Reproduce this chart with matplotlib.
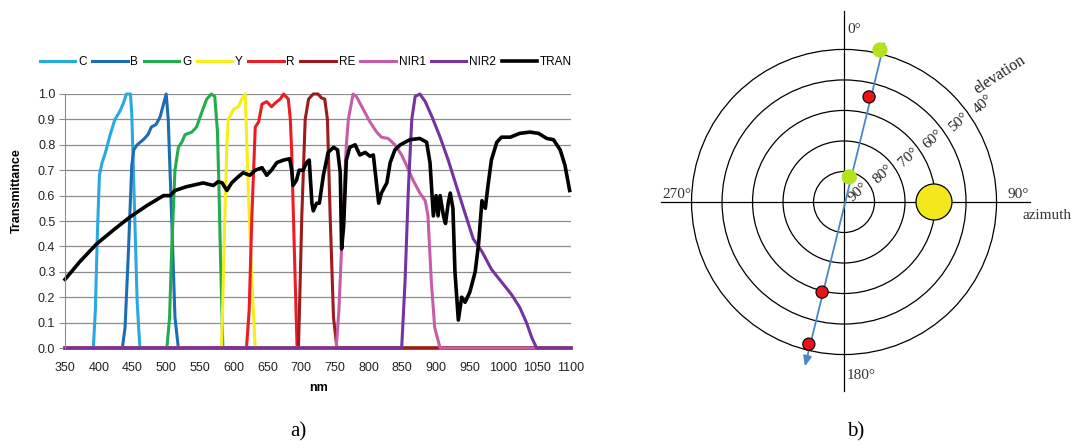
import numpy as np
import matplotlib
matplotlib.use("Agg")
import matplotlib.pyplot as plt
from matplotlib.patches import Circle

# ---- spectral data ----
c_nm = [350, 392, 395, 398, 401, 405, 410, 417, 424, 431, 436, 441, 447, 449, 453, 457, 461, 1100]
c_val = [0, 0, 0.15, 0.45, 0.68, 0.73, 0.77, 0.84, 0.9, 0.93, 0.96, 1.0, 1.0, 0.92, 0.55, 0.18, 0, 0]

b_nm = [350, 435, 439, 444, 449, 452, 457, 466, 473, 478, 485, 491, 496, 500, 503, 508, 513, 518, 1100]
b_val = [0, 0, 0.08, 0.38, 0.72, 0.78, 0.80, 0.82, 0.84, 0.87, 0.88, 0.91, 0.96, 1.0, 0.9, 0.52, 0.12, 0, 0]

g_nm = [350, 501, 505, 508, 513, 518, 523, 528, 538, 545, 553, 560, 567, 572, 576, 578, 581, 584, 1100]
g_val = [0, 0, 0.12, 0.38, 0.7, 0.79, 0.81, 0.84, 0.85, 0.87, 0.93, 0.98, 1.0, 0.99, 0.85, 0.65, 0.3, 0, 0]

y_nm = [350, 582, 584, 587, 590, 592, 600, 607, 612, 617, 619, 622, 627, 632, 1100]
y_val = [0, 0, 0.2, 0.52, 0.8, 0.9, 0.94, 0.95, 0.98, 1.0, 0.85, 0.6, 0.26, 0, 0]

r_nm = [350, 619, 623, 627, 632, 637, 642, 649, 656, 664, 669, 674, 681, 684, 686, 690, 694, 1100]
r_val = [0, 0, 0.15, 0.52, 0.87, 0.89, 0.96, 0.97, 0.95, 0.97, 0.98, 1.0, 0.98, 0.9, 0.77, 0.38, 0, 0]

re_nm = [350, 696, 698, 701, 706, 711, 718, 725, 730, 735, 739, 743, 748, 753, 1100]
re_val = [0, 0, 0.2, 0.52, 0.9, 0.98, 1.0, 1.0, 0.985, 0.98, 0.9, 0.52, 0.12, 0, 0]

nir1_nm = [350, 752, 756, 762, 767, 770, 777, 782, 792, 802, 812, 819, 829, 839, 849, 856, 866, 876,
           884, 888, 893, 898, 906, 1100]
nir1_val = [0, 0, 0.15, 0.52, 0.8, 0.9, 1.0, 0.99, 0.94, 0.89, 0.85, 0.83, 0.825, 0.8, 0.76, 0.72, 0.66, 0.61,
            0.58, 0.52, 0.26, 0.08, 0, 0]

nir2_nm = [350, 849, 854, 859, 864, 869, 876, 884, 894, 906, 918, 931, 943, 955, 968, 982, 997, 1012,
           1024, 1034, 1042, 1049, 1100]
nir2_val = [0, 0, 0.26, 0.63, 0.9, 0.99, 1.0, 0.97, 0.91, 0.83, 0.74, 0.63, 0.53, 0.43, 0.38, 0.31, 0.26, 0.21,
            0.16, 0.1, 0.04, 0, 0]

tran_nm = [350, 372, 397, 422, 446, 471, 496, 506, 513, 530, 555, 562, 570, 577, 583, 590, 597, 605, 614,
           624, 632, 642, 649, 656, 664, 674, 683, 686, 688, 693, 697, 703, 708, 712, 716, 718, 723, 727,
           733, 740, 748, 754, 758, 760, 763, 767, 772, 780, 787, 795, 802, 807, 812, 815, 819, 827, 832,
           839, 847, 861, 876, 886, 891, 896, 900, 903, 906, 911, 914, 918, 921, 925, 928, 933, 938, 943,
           950, 958, 963, 968, 973, 977, 982, 990, 997, 1010, 1024, 1039, 1052, 1064, 1074, 1084, 1091, 1098]
tran_val = [0.27, 0.34, 0.41, 0.465, 0.515, 0.56, 0.60, 0.60, 0.62, 0.635, 0.65, 0.645, 0.64, 0.655, 0.65, 0.62,
            0.65, 0.67, 0.69, 0.68, 0.70, 0.71, 0.68, 0.70, 0.73, 0.74, 0.745, 0.70, 0.64, 0.66, 0.70, 0.70,
            0.73, 0.74, 0.57, 0.54, 0.57, 0.57, 0.68, 0.77, 0.79, 0.78, 0.69, 0.39, 0.48, 0.74, 0.79, 0.80,
            0.76, 0.77, 0.755, 0.76, 0.64, 0.57, 0.61, 0.65, 0.73, 0.78, 0.80, 0.82, 0.825, 0.81, 0.73, 0.52,
            0.60, 0.52, 0.60, 0.52, 0.49, 0.57, 0.61, 0.55, 0.30, 0.11, 0.20, 0.18, 0.22, 0.30, 0.41, 0.58,
            0.55, 0.64, 0.74, 0.81, 0.83, 0.83, 0.845, 0.85, 0.845, 0.825, 0.82, 0.78, 0.72, 0.62]

band_names = ["C", "B", "G", "Y", "R", "RE", "NIR1", "NIR2", "TRAN"]
band_colors = ["#29a9e1", "#1d6db5", "#21ad4b", "#f5ee1a", "#ed1c24", "#9c1b1f", "#c65da9", "#7433a0", "#000000"]
band_x = [c_nm, b_nm, g_nm, y_nm, r_nm, re_nm, nir1_nm, nir2_nm, tran_nm]
band_y = [c_val, b_val, g_val, y_val, r_val, re_val, nir1_val, nir2_val, tran_val]

# ---- sky plot data (azimuth / elevation in degrees) ----
ring_elev = [90, 80, 70, 60, 50, 40]
path_az = [14.2, 193.4]
path_el = [35.5, 33.7]
green_az = [13.3, 11.7]
green_el = [38.8, 81.6]
red_az = [13.4, 193.7, 193.9]
red_el = [54.6, 59.6, 42.0]
sun_az = [90]
sun_el = [60.5]


def sky_xy(az, el):
    az = np.radians(np.array(az))
    r = (90 - np.array(el)) / 10.0
    return r * np.sin(az), r * np.cos(az)


fig = plt.figure(figsize=(10.74, 4.48), dpi=100)

# ---------- a) transmittance ----------
ax = fig.add_axes([65 / 1074, 1 - 348 / 448, 506 / 1074, 254 / 448])
for name, col, xs, ys in zip(band_names, band_colors, band_x, band_y):
    lw = 2.6 if name == "TRAN" else 2.2
    ax.plot(xs, ys, color=col, lw=lw, label=name, solid_joinstyle="round", clip_on=False)

ax.set_xlim(350, 1100)
ax.set_ylim(0, 1.0)
ax.set_xticks(np.arange(350, 1101, 50))
ax.set_yticks(np.arange(0, 1.01, 0.1))
ax.set_yticklabels(["%.1f" % v for v in np.arange(0, 1.01, 0.1)])
ax.yaxis.grid(True, color="#8c8c8c", lw=0.9)
ax.set_axisbelow(True)
for s in ["top", "right", "bottom"]:
    ax.spines[s].set_visible(False)
ax.spines["left"].set_color("#8c8c8c")
ax.tick_params(axis="x", length=0, pad=10, labelsize=9, labelcolor="#222222")
ax.tick_params(axis="y", length=4, color="#8c8c8c", pad=3, labelsize=9, labelcolor="#222222")
for lab in ax.get_xticklabels() + ax.get_yticklabels():
    lab.set_fontfamily("Liberation Sans")

ax.set_xlabel("nm", fontsize=9, fontweight="bold", family="Liberation Sans")
ax.xaxis.set_label_coords(0.5, -0.135)
ax.set_ylabel("Transmittance", fontsize=9, fontweight="bold", family="Liberation Sans")
ax.yaxis.set_label_coords(-0.083, 0.62)

fig.legend(loc="center", bbox_to_anchor=(306 / 1074, 1 - 62 / 448), ncol=9, frameon=False,
           handlelength=3.0, handletextpad=0.25, columnspacing=0.45,
           prop={"family": "Liberation Sans", "size": 8.5})

# ---------- b) sky plot ----------
bx = fig.add_axes([640 / 1074, 1 - 400 / 448, 434 / 1074, 400 / 448])
bx.set_xlim(-6.69, 7.54)
bx.set_ylim(-6.49, 6.62)
bx.axis("off")

for e in ring_elev[1:]:
    bx.add_patch(Circle((0, 0), (90 - e) / 10.0, fill=False, ec="black", lw=0.9))
bx.plot([-6.0, 6.1], [0, 0], color="black", lw=0.9)
bx.plot([0, 0], [-6.2, 6.25], color="black", lw=0.9)

serif = "Liberation Serif"
bx.text(0.12, 5.64, "0°", family=serif, fontsize=11, ha="left", va="center", color="#333333")
bx.text(6.05, 0.25, "90°", family=serif, fontsize=11, ha="right", va="center", color="#333333")
bx.text(-5.97, 0.25, "270°", family=serif, fontsize=11, ha="left", va="center", color="#333333")
bx.text(0.08, -5.7, "180°", family=serif, fontsize=11, ha="left", va="center", color="#333333")
bx.text(5.85, -0.43, "azimuth", family=serif, fontsize=11, ha="left", va="center", color="#333333")

ang = np.radians(35)
for k, e in enumerate(ring_elev):
    rr = k + 0.57
    bx.text(rr * np.cos(ang), rr * np.sin(ang), "%d°" % e, family=serif, fontsize=11,
            rotation=42, ha="center", va="center", color="#222222")
bx.text(5.11, 4.16, "elevation", family=serif, fontsize=11.5, rotation=33,
        ha="center", va="center", color="#222222")

px, py = sky_xy(path_az, path_el)
bx.annotate("", xy=(px[1], py[1]), xytext=(px[0], py[0]),
            arrowprops=dict(arrowstyle="-|>,head_length=0.6,head_width=0.25", color="#4a87c9", lw=1.3))

sx, sy = sky_xy(sun_az, sun_el)
for x0, y0 in zip(sx, sy):
    bx.add_patch(Circle((x0, y0), 0.59, fc="#f3e81c", ec="black", lw=0.9, zorder=4))
gx, gy = sky_xy(green_az, green_el)
for x0, y0 in zip(gx, gy):
    bx.add_patch(Circle((x0, y0), 0.25, fc="#b4e21c", ec="none", zorder=4))
rx, ry = sky_xy(red_az, red_el)
for x0, y0 in zip(rx, ry):
    bx.add_patch(Circle((x0, y0), 0.2, fc="#e8141c", ec="black", lw=0.8, zorder=4))

# panel captions
fig.text(298 / 1074, 1 - 432 / 448, "a)", family=serif, fontsize=15, ha="center", va="center")
fig.text(856 / 1074, 1 - 432 / 448, "b)", family=serif, fontsize=15, ha="center", va="center")

fig.savefig("out.png", dpi=100)
